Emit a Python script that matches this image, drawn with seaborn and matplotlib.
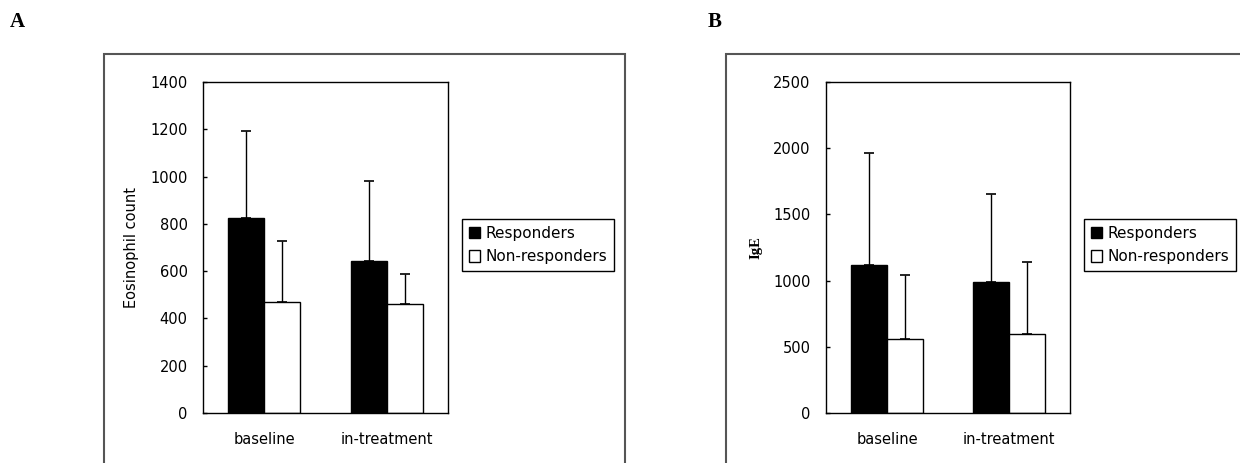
import seaborn as sns
import pandas as pd
import matplotlib.pyplot as plt
from matplotlib.patches import Rectangle

sns.set_style('white')
plt.rcParams['font.family'] = ['DejaVu Sans']
plt.rcParams['text.color'] = 'black'
plt.rcParams['axes.labelcolor'] = 'black'
plt.rcParams['xtick.color'] = 'black'
plt.rcParams['ytick.color'] = 'black'

phases = ['baseline', 'in-treatment']
groups = ['Responders', 'Non-responders']

# panel A: eosinophil count (mean, upper SD)
eos_resp = [825, 645]
eos_resp_sd = [366, 337]
eos_non = [470, 463]
eos_non_sd = [259, 127]

# panel B: IgE
ige_resp = [1120, 993]
ige_resp_sd = [846, 661]
ige_non = [560, 593]
ige_non_sd = [482, 548]


def make_df(resp, resp_sd, non, non_sd):
    rows = []
    for i, ph in enumerate(phases):
        rows.append({'phase': ph, 'group': groups[0], 'val': resp[i], 'sd': resp_sd[i]})
        rows.append({'phase': ph, 'group': groups[1], 'val': non[i], 'sd': non_sd[i]})
    return pd.DataFrame(rows)


def draw(ax, df, ymax, step, ylabel, label_font, leg_x):
    sns.barplot(data=df, x='phase', y='val', hue='group', order=phases, hue_order=groups,
                palette={'Responders': 'black', 'Non-responders': 'white'},
                edgecolor='black', linewidth=1, width=0.59, gap=0, errorbar=None, ax=ax)
    # one-sided error bars on each bar
    for bar_group, g in zip(ax.containers, groups):
        sub = df[df.group == g].set_index('phase').loc[phases]
        xs = [b.get_x() + b.get_width() / 2 for b in bar_group]
        ax.errorbar(xs, sub['val'], yerr=[[0] * len(xs), sub['sd']], fmt='none',
                    ecolor='black', elinewidth=1, capsize=3.5, capthick=1.2, zorder=0)
    ax.set_xlim(-0.5, 1.5)
    ax.set_ylim(0, ymax)
    ax.set_yticks(range(0, ymax + 1, step))
    ax.set_xlabel('')
    ax.set_ylabel(ylabel, fontsize=10.5, labelpad=8, **label_font)
    ax.set_xticks([0.5], minor=True)
    ax.tick_params(axis='x', which='major', length=0, pad=14, labelsize=10.5)
    ax.tick_params(axis='x', which='minor', direction='in', length=3, width=1, color='black')
    ax.tick_params(axis='y', direction='in', length=3, width=1, color='black', left=True,
                   pad=11, labelsize=10.5)
    for s in ax.spines.values():
        s.set_visible(True)
        s.set_color('black')
        s.set_linewidth(1)
    handles, labels = ax.get_legend_handles_labels()
    ax.get_legend().remove()
    fig.legend(handles, labels, loc='upper left', bbox_to_anchor=(leg_x / 1240, 1 - 219 / 463),
               frameon=True, fancybox=False, edgecolor='black', framealpha=1,
               fontsize=11, handlelength=0.75, handleheight=0.75, handletextpad=0.35,
               labelspacing=0.55, borderpad=0.45, borderaxespad=0)


fig = plt.figure(figsize=(12.4, 4.63), dpi=100)

# outer panel frames
fig.patches.append(Rectangle((104 / 1240, -0.1), 521 / 1240, 1.1 - 54 / 463, transform=fig.transFigure,
                             fill=False, edgecolor='#555555', linewidth=1.5))
fig.patches.append(Rectangle((726 / 1240, -0.1), 600 / 1240, 1.1 - 54 / 463, transform=fig.transFigure,
                             fill=False, edgecolor='#555555', linewidth=1.5))

ax1 = fig.add_axes([203 / 1240, 1 - 413 / 463, 245 / 1240, 331 / 463])
ax2 = fig.add_axes([826 / 1240, 1 - 413 / 463, 244 / 1240, 331 / 463])

draw(ax1, make_df(eos_resp, eos_resp_sd, eos_non, eos_non_sd), 1400, 200,
     'Eosinophil count', {}, 462)
draw(ax2, make_df(ige_resp, ige_resp_sd, ige_non, ige_non_sd), 2500, 500,
     'IgE', {'family': 'Liberation Serif', 'fontweight': 'bold'}, 1084)

fig.text(10 / 1240, 1 - 27 / 463, 'A', fontsize=15, fontweight='bold', family='Liberation Serif')
fig.text(708 / 1240, 1 - 27 / 463, 'B', fontsize=15, fontweight='bold', family='Liberation Serif')

fig.savefig('out.png', dpi=100)
